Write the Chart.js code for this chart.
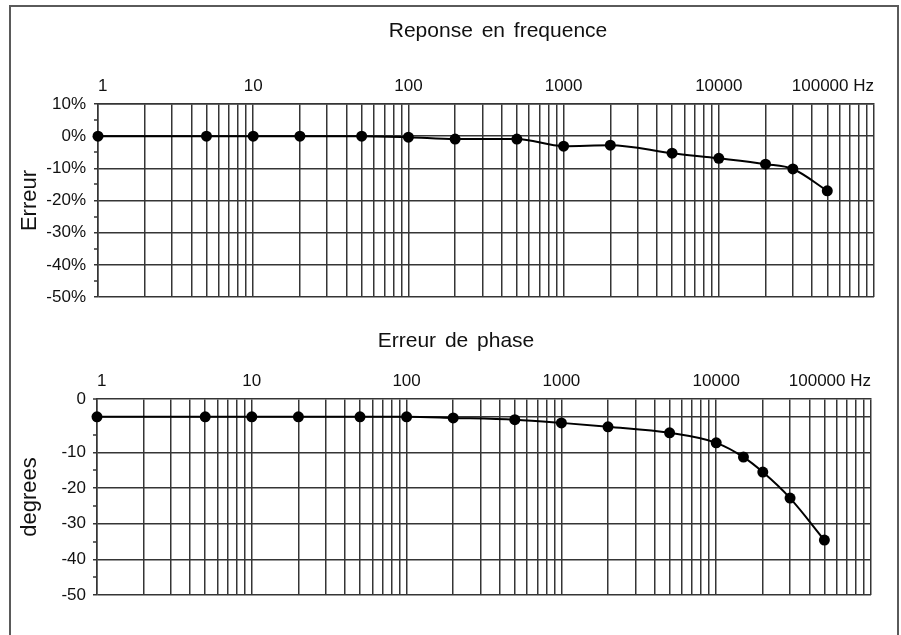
<!DOCTYPE html>
<html>
<head>
<meta charset="utf-8">
<title>Reponse en frequence</title>
<script src="https://cdn.jsdelivr.net/npm/chart.js@4.4.1/dist/chart.umd.min.js"></script>
<style>
  html, body { margin: 0; padding: 0; background: #fff; }
  #page { position: relative; width: 901px; height: 635px; overflow: hidden; }
  #frame { position: absolute; left: 9px; top: 5px; width: 886px; height: 640px; border: 2px solid #5a5a5a; }
  canvas { position: absolute; left: 0; }
  #gainChart { top: 0; }
  #phaseChart { top: 320px; }
</style>
</head>
<body>
<div id="page">
  <div id="frame"></div>
  <canvas id="gainChart" width="901" height="320"></canvas>
  <canvas id="phaseChart" width="901" height="315"></canvas>
</div>
<script>
// frequency axis: decade labels
const decadeValues = [1, 10, 100, 1000, 10000, 100000];
const decadeLabels = ['1', '10', '100', '1000', '10000', '100000 Hz'];

// top panel: amplitude error (%)
const gainFreq = [1, 5, 10, 20, 50, 100, 200, 500, 1000, 2000, 5000, 10000, 20000, 30000, 50000];
const gainError = [0, 0, 0, 0, 0, -0.3, -0.9, -0.9, -3.1, -2.8, -5.3, -6.9, -8.7, -10.2, -17.0];

// bottom panel: phase error (degrees)
const phaseFreq = [1, 5, 10, 20, 50, 100, 200, 500, 1000, 2000, 5000, 10000, 15000, 20000, 30000, 50000];
const phaseError = [0, 0, 0, 0, 0, 0, -0.3, -0.8, -1.7, -2.8, -4.5, -7.3, -11.3, -15.5, -22.8, -34.6];

// y tick labels as printed on the sheet
const gainTickLabels = { 10: '10%', 0: '0%', '-10': '-10%', '-20': '-20%', '-30': '-30%', '-40': '-40%', '-50': '-50%' };
const phaseTickLabels = { 5: '0', '-10': '-10', '-20': '-20', '-30': '-30', '-40': '-40', '-50': '-50' };

// log grid: 1..9 in every decade
const gridFreqs = [];
decadeValues.slice(0, -1).forEach(d => {
    for (let m = 1; m < 10; m++) gridFreqs.push(m * d);
});
gridFreqs.push(100000);

const FONT = '"Liberation Sans", Arial, Helvetica, sans-serif';
const INK = '#111';
const GRID = '#353535';

const panelTitle = {
    id: 'panelTitle',
    afterDraw(chart, args, opts) {
        const ctx = chart.ctx;
        ctx.save();
        ctx.font = '21px ' + FONT;
        ctx.fillStyle = INK;
        ctx.textAlign = 'center';
        ctx.textBaseline = 'alphabetic';
        if ('wordSpacing' in ctx) ctx.wordSpacing = '3px';
        ctx.fillText(opts.text, opts.x, opts.y);
        ctx.restore();
    }
};

function xAxis() {
    return {
        type: 'logarithmic',
        position: 'top',
        min: 1,
        max: 100000,
        afterBuildTicks: s => { s.ticks = gridFreqs.map(v => ({ value: v })); },
        afterFit: s => { s.height = 30; },
        ticks: {
            autoSkip: false,
            maxRotation: 0,
            align: 'inner',
            padding: 7,
            color: INK,
            font: { family: FONT, size: 17 },
            callback: v => {
                const i = decadeValues.indexOf(v);
                return i >= 0 ? decadeLabels[i] : '';
            }
        },
        grid: { drawTicks: false, color: GRID, lineWidth: 1.5 },
        border: { color: GRID, width: 1.5 }
    };
}

function yAxis(min, max, labels, title, width, pad) {
    return {
        min: min,
        max: max,
        afterFit: s => { s.width = width; },
        ticks: {
            stepSize: 5,
            autoSkip: false,
            padding: pad,
            color: INK,
            font: { family: FONT, size: 17 },
            callback: v => labels[v] !== undefined ? labels[v] : ''
        },
        grid: {
            tickLength: 4,
            color: GRID,
            tickColor: GRID,
            tickWidth: 1.5,
            lineWidth: c => (c.tick && c.tick.value % 10 === 0) ? 1.5 : 0
        },
        border: { color: GRID, width: 1.5 },
        title: {
            display: true,
            text: title,
            color: INK,
            font: { family: FONT, size: 22 },
            padding: { top: 5, bottom: 2 }
        }
    };
}

function lineDataset(freqs, values) {
    return {
        data: freqs.map((f, i) => ({ x: f, y: values[i] })),
        borderColor: '#000',
        borderWidth: 2,
        backgroundColor: '#000',
        pointRadius: 5.5,
        pointHoverRadius: 5.5,
        pointBorderWidth: 0,
        cubicInterpolationMode: 'monotone',
        clip: false
    };
}

Chart.defaults.animation = false;

new Chart(document.getElementById('gainChart'), {
    type: 'line',
    data: { datasets: [lineDataset(gainFreq, gainError)] },
    options: {
        responsive: false,
        layout: { padding: { top: 74, bottom: 23, left: 12, right: 27 } },
        plugins: {
            legend: { display: false },
            tooltip: { enabled: false },
            panelTitle: { text: 'Reponse en frequence', x: 498, y: 37 }
        },
        scales: {
            x: xAxis(),
            y: yAxis(-50, 10, gainTickLabels, 'Erreur', 86, 8)
        }
    },
    plugins: [panelTitle]
});

new Chart(document.getElementById('phaseChart'), {
    type: 'line',
    data: { datasets: [lineDataset(phaseFreq, phaseError)] },
    options: {
        responsive: false,
        layout: { padding: { top: 49, bottom: 40, left: 12, right: 30 } },
        plugins: {
            legend: { display: false },
            tooltip: { enabled: false },
            panelTitle: { text: 'Erreur de phase', x: 456, y: 27 }
        },
        scales: {
            x: xAxis(),
            y: yAxis(-50, 5, phaseTickLabels, 'degrees', 85, 7)
        }
    },
    plugins: [panelTitle]
});
</script>
</body>
</html>
